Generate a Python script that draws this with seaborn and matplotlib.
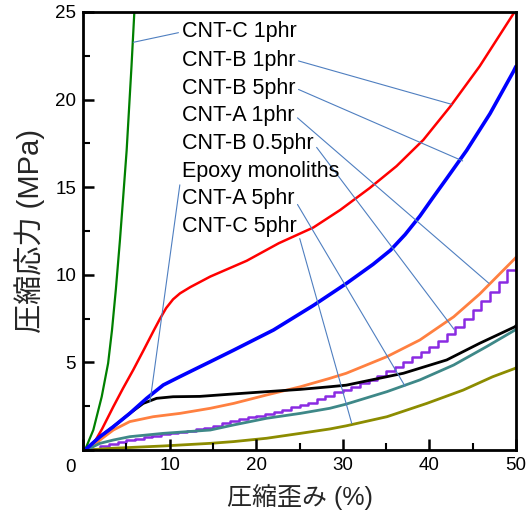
import matplotlib
matplotlib.use("Agg")
import matplotlib.pyplot as plt
import matplotlib.transforms as mtrans
import pandas as pd
import seaborn as sns

# stress-strain curves (strain %, stress MPa)
cnt_c_1_x = [0.23, 1.19, 2.16, 2.9, 3.35, 3.8, 4.27, 4.65, 5.04, 5.6, 5.95]
cnt_c_1_y = [0, 1.14, 3.04, 4.95, 6.85, 9.2, 12.0, 14.5, 17.1, 21.9, 25.2]

cnt_b_1_x = [0.8, 2.2, 3.5, 4.6, 5.8, 7.0, 8.2, 8.9, 9.6, 10.4, 11.2, 12.4, 14.7,
             18.9, 22.6, 26.6, 29.7, 33.1, 36.2, 39.3, 42.4, 45.8, 49.7, 50.0]
cnt_b_1_y = [0, 1.2, 2.47, 3.5, 4.57, 5.7, 6.85, 7.5, 8.1, 8.6, 8.94, 9.3, 9.9,
             10.8, 11.8, 12.7, 13.7, 14.95, 16.2, 17.7, 19.6, 21.9, 24.9, 25.1]

cnt_b_5_x = [0.23, 1.96, 3.5, 5.4, 7.35, 9.27, 11.2, 13.5, 14.7, 17.4, 22.0, 26.6,
             30.4, 33.5, 35.5, 37.2, 38.9, 40.4, 42.0, 44.3, 47.0, 49.7, 50.0]
cnt_b_5_y = [0, 0.76, 1.33, 2.09, 2.95, 3.71, 4.19, 4.75, 5.04, 5.7, 6.85, 8.25,
             9.5, 10.6, 11.4, 12.3, 13.35, 14.4, 15.5, 17.1, 19.2, 21.6, 21.9]

cnt_a_1_x = [0.6, 1.96, 3.5, 5.4, 8.1, 11.2, 14.7, 17.4, 21.2, 25.1, 28.5, 30.4,
             35.1, 38.9, 42.8, 45.8, 49.9, 50.0]
cnt_a_1_y = [0, 0.57, 1.14, 1.62, 1.9, 2.09, 2.38, 2.66, 3.14, 3.61, 4.09, 4.38,
             5.33, 6.28, 7.6, 8.9, 10.94, 11.0]

cnt_b_05_x = [0.8, 1, 2, 3, 4, 5, 6, 7, 8, 9, 10, 11, 12, 13, 14, 15, 16, 17, 18,
              19, 20, 21, 22, 23, 24, 25, 26, 27, 28, 29, 30, 31, 32, 33, 34, 35,
              36, 37, 38, 39, 40, 41, 42, 43, 44, 45, 46, 47, 48, 49, 50]
cnt_b_05_y = [0, 0.05, 0.2, 0.32, 0.45, 0.55, 0.65, 0.74, 0.82, 0.89, 0.96, 1.04,
              1.1, 1.18, 1.27, 1.38, 1.52, 1.66, 1.76, 1.86, 1.96, 2.07, 2.18, 2.3,
              2.43, 2.56, 2.7, 2.9, 3.1, 3.3, 3.45, 3.6, 3.8, 4.0, 4.25, 4.5, 4.75,
              5.0, 5.3, 5.6, 5.9, 6.2, 6.6, 7.0, 7.5, 8.0, 8.5, 9.0, 9.6, 10.3, 11.0]

epoxy_x = [0.23, 1.96, 3.5, 5.4, 6.96, 8.5, 10.4, 13.5, 17.4, 21.2, 25.1, 28.5,
           30.4, 37.0, 42.0, 45.8, 49.9, 50.0]
epoxy_y = [0, 0.76, 1.33, 2.09, 2.66, 2.95, 3.04, 3.06, 3.2, 3.33, 3.46, 3.61,
           3.7, 4.38, 5.14, 6.09, 7.04, 7.1]

cnt_a_5_x = [0.4, 1.96, 3.5, 5.4, 9.27, 14.7, 17.4, 21.2, 25.1, 28.5, 30.4, 35.1,
             38.9, 42.8, 46.6, 49.9, 50.0]
cnt_a_5_y = [0, 0.38, 0.57, 0.76, 0.95, 1.14, 1.43, 1.81, 2.09, 2.38, 2.62, 3.33,
             4.0, 4.85, 5.9, 6.85, 6.9]

cnt_c_5_x = [0.4, 3.5, 9.27, 14.7, 17.4, 21.2, 25.1, 28.5, 30.4, 35.1, 39.7, 43.9,
             47.3, 49.9, 50.0]
cnt_c_5_y = [0, 0.1, 0.23, 0.38, 0.48, 0.67, 0.95, 1.2, 1.38, 1.9, 2.66, 3.42,
             4.18, 4.66, 4.7]

x_ticks = [0, 10, 20, 30, 40, 50]
y_ticks = [0, 5, 10, 15, 20, 25]

# label text, where the leader line touches the curve, and text anchor
labels = ["CNT-C 1phr", "CNT-B 1phr", "CNT-B 5phr", "CNT-A 1phr",
          "CNT-B 0.5phr", "Epoxy monoliths", "CNT-A 5phr", "CNT-C 5phr"]
label_hits = [(5.81, 23.27), (42.57, 19.73), (43.84, 16.5), (46.88, 9.51),
              (42.84, 6.89), (7.74, 2.76), (37.18, 3.65), (31.03, 1.52)]
label_y = [23.86, 22.26, 20.66, 19.12, 17.52, 15.92, 14.33, 12.73]

sns.set_theme(style="ticks")
plt.rcParams["font.family"] = ["Liberation Sans", "Noto Sans CJK JP", "DejaVu Sans"]
plt.rcParams.update({
    "xtick.direction": "in", "ytick.direction": "in",
    "xtick.major.size": 8, "ytick.major.size": 8,
    "xtick.minor.size": 5, "ytick.minor.size": 5,
    "xtick.major.width": 1.8, "ytick.major.width": 1.8,
    "xtick.minor.width": 1.5, "ytick.minor.width": 1.5,
    "xtick.color": "black", "ytick.color": "black",
    "axes.axisbelow": False,
})

fig = plt.figure(figsize=(5.31, 5.15), dpi=100)
ax = fig.add_axes([83 / 531, 65 / 515, 433 / 531, 438 / 515])

series = [
    (cnt_c_1_x, cnt_c_1_y, "#008000", 1.6, "default"),
    (cnt_b_1_x, cnt_b_1_y, "#ff0000", 1.8, "default"),
    (cnt_a_1_x, cnt_a_1_y, "#ff8040", 2.0, "default"),
    (cnt_b_05_x, cnt_b_05_y, "#8a2be2", 1.8, "steps-post"),
    (cnt_c_5_x, cnt_c_5_y, "#8c8c00", 2.0, "default"),
    (cnt_a_5_x, cnt_a_5_y, "#3e8888", 2.0, "default"),
    (epoxy_x, epoxy_y, "#000000", 2.0, "default"),
    (cnt_b_5_x, cnt_b_5_y, "#0000ff", 2.6, "default"),
]
for xs, ys, col, lw, ds in series:
    df = pd.DataFrame({"strain": xs, "stress": ys})
    sns.lineplot(data=df, x="strain", y="stress", ax=ax, color=col, lw=lw,
                 drawstyle=ds, estimator=None, sort=False)

for lab, hit, ty in zip(labels, label_hits, label_y):
    left = lab in ("CNT-C 1phr", "Epoxy monoliths")
    ax.annotate(lab, xy=hit, xytext=(11.4, ty), textcoords="data",
                ha="left", va="center", fontsize=15.5, color="black",
                arrowprops=dict(arrowstyle="-", color="#4f7fc0", lw=0.8,
                                shrinkA=0, shrinkB=0,
                                relpos=(0, 0.5) if left else (1, 0.5)))

ax.set_xlim(0, 50)
ax.set_ylim(0, 25)
ax.set_xticks(x_ticks)
ax.set_xticklabels([str(t) for t in x_ticks])
ax.set_yticks(y_ticks)
ax.set_yticklabels([""] + [str(t) for t in y_ticks[1:]])
ax.set_xticks([5, 15, 25, 35, 45], minor=True)
ax.set_yticks([2.5, 7.5, 12.5, 17.5, 22.5], minor=True)
ax.tick_params(which="both", bottom=True, left=True, top=False, right=False)
ax.tick_params(which="major", direction="in", length=8, width=1.8,
               color="black", labelcolor="black", labelsize=13.5, pad=5)
ax.tick_params(which="minor", direction="in", length=5, width=1.5, color="black")
ax.set_axisbelow(False)
ax.xaxis.set_zorder(5)
ax.yaxis.set_zorder(5)
first = ax.get_xticklabels()[0]
first.set_transform(first.get_transform() +
                    mtrans.ScaledTranslation(-12 / 100, -2 / 100, fig.dpi_scale_trans))
for sp in ax.spines.values():
    sp.set_linewidth(2)
    sp.set_color("black")
    sp.set_zorder(6)

ax.set_xlabel("圧縮歪み (%)", fontsize=18, labelpad=6)
ax.set_ylabel("圧縮応力 (MPa)", fontsize=21, labelpad=7)

fig.savefig("out.png", dpi=100)
